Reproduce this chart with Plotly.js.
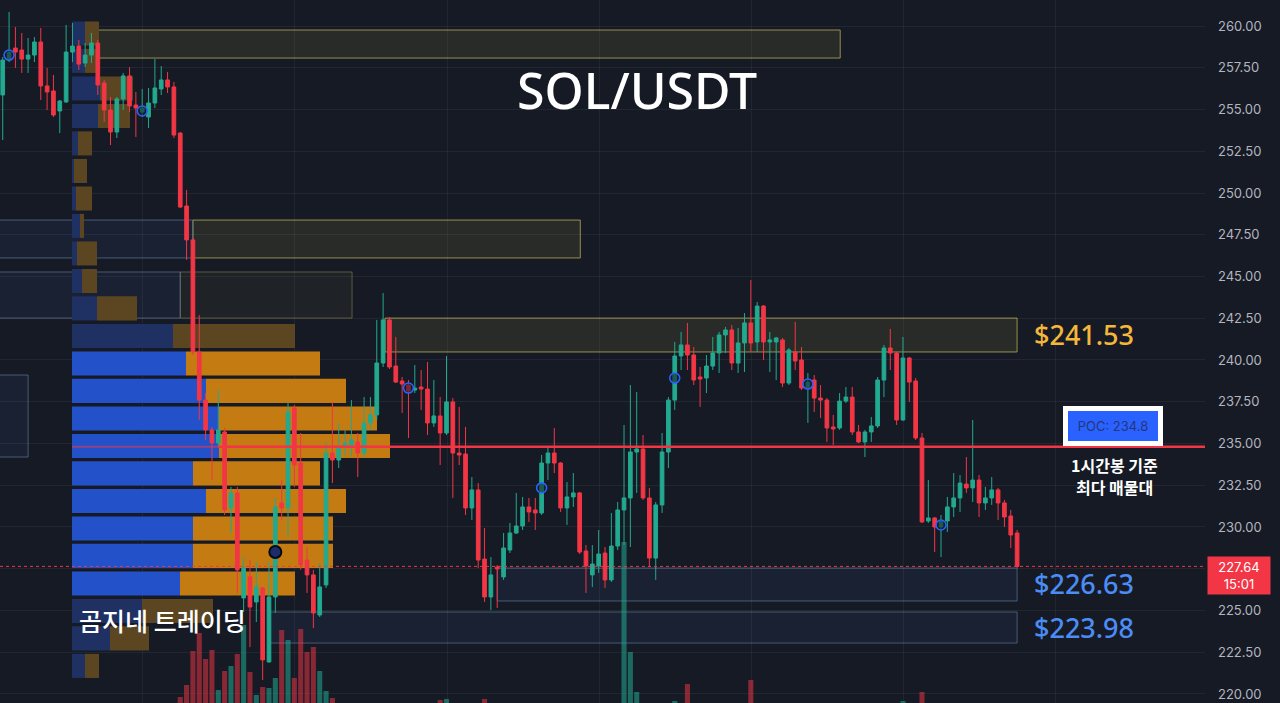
<!DOCTYPE html>
<html><head><meta charset="utf-8">
<script src="https://cdn.plot.ly/plotly-3.0.1.min.js"></script>
<style>html,body{margin:0;padding:0;background:#161a25;}#chart{width:1280px;height:703px;}</style>
</head><body><div id="chart"></div>
<script>
// ---------- 1h candles (index = hour) ----------
const open = [
255.87,257.96,258.68,258.56,258.02,258.26,259.04,256.41,256.11,254.91,
255.45,258.44,258.80,257.78,258.26,258.98,256.59,254.97,253.65,255.63,
257.01,255.27,254.85,254.55,255.39,256.23,256.77,256.35,253.59,249.22,
247.19,240.48,237.60,235.81,235.03,235.69,231.14,232.04,225.75,227.01,
225.51,226.35,221.92,225.81,231.44,231.14,237.13,233.83,228.02,227.13,
224.73,226.53,234.43,234.01,234.79,234.91,235.09,234.43,236.23,236.71,
239.82,242.40,239.64,238.74,238.50,238.20,238.38,238.26,236.23,236.65,
235.63,237.49,234.43,234.37,231.14,232.22,228.08,225.81,227.60,227.01,
228.62,229.64,230.06,231.20,231.02,230.84,233.83,234.43,233.83,231.14,
231.80,232.04,228.56,227.13,227.66,228.44,226.83,228.86,231.02,231.74,
234.49,234.67,231.74,228.14,231.32,234.49,237.60,240.24,240.90,240.30,
238.98,238.92,239.64,240.42,241.50,241.80,239.82,241.02,242.22,241.08,
243.23,241.08,241.08,241.20,238.62,240.48,240.00,238.32,238.80,237.72,
237.60,235.99,235.93,237.54,237.78,235.69,235.09,235.69,236.05,238.80,
240.72,240.42,236.41,240.12,238.74,235.33,230.36,230.54,230.00,230.36,
231.20,231.74,232.57,232.34,232.81,231.44,231.74,232.22,231.44,230.66,
229.64];
const high = [
258.14,260.84,259.94,259.58,259.28,259.34,259.88,257.49,257.07,255.57,
260.06,260.18,259.16,258.98,259.58,259.16,256.77,255.75,255.75,257.19,
257.54,256.05,256.23,256.29,258.02,257.60,257.25,256.65,253.65,250.18,
247.31,242.69,238.02,235.99,238.20,235.93,232.40,232.40,228.20,228.02,
227.90,226.41,227.90,231.74,232.81,237.49,237.31,235.63,228.80,227.43,
227.84,235.09,237.49,236.23,235.81,237.60,235.63,237.78,237.78,242.40,
244.01,242.57,241.38,238.98,238.80,239.70,239.40,239.88,238.80,237.78,
240.24,237.72,237.19,235.99,232.99,232.63,229.94,228.20,227.72,229.64,
230.24,232.04,231.80,231.74,231.74,234.31,234.73,235.93,233.89,232.69,
233.23,232.10,228.92,228.92,229.82,228.80,230.84,231.50,236.11,238.50,
238.08,235.51,232.34,231.50,235.63,237.78,241.08,241.68,242.22,240.78,
239.58,240.30,241.38,241.68,241.98,242.10,241.92,242.81,244.79,243.47,
243.29,241.68,241.38,241.32,240.72,242.28,240.78,239.22,239.10,238.50,
237.72,236.71,238.02,238.38,238.38,236.11,235.81,236.59,238.98,240.90,
241.86,240.48,241.38,240.18,238.92,235.63,232.81,230.60,230.72,231.80,
233.23,233.11,234.19,236.41,233.11,232.40,232.99,232.34,231.62,231.02,
229.82];
const low = [
253.17,257.84,257.49,257.19,257.19,257.84,255.57,254.97,254.55,253.59,
255.40,257.84,257.37,257.54,257.78,255.87,254.25,252.87,253.29,254.97,
254.85,253.35,254.55,253.89,255.09,255.87,255.99,253.29,249.10,245.99,
240.30,236.41,235.21,232.81,234.79,230.72,229.64,226.05,224.91,222.81,
224.31,220.84,221.86,224.85,230.42,229.40,232.40,227.43,226.05,223.95,
224.61,226.35,232.63,233.53,234.31,234.19,232.99,234.19,235.81,236.41,
239.58,239.46,238.62,236.83,235.33,238.02,237.01,235.51,235.99,233.71,
235.51,231.74,233.71,230.72,230.42,227.54,225.51,225.03,225.15,226.83,
228.44,229.58,229.82,230.30,229.82,230.72,232.81,233.23,230.90,230.12,
231.20,228.38,226.05,226.41,227.25,226.35,226.71,228.62,228.92,228.80,
232.04,231.62,227.60,226.83,230.84,233.53,237.01,239.40,239.40,238.50,
237.19,238.02,239.40,239.22,240.42,239.40,239.22,239.28,240.48,240.48,
240.00,239.28,238.80,238.38,238.50,239.40,238.20,236.23,236.89,236.53,
235.09,234.91,235.81,237.43,235.51,235.03,234.19,235.09,235.93,237.78,
239.40,236.11,236.35,237.49,235.21,230.24,230.24,228.50,228.20,229.70,
230.60,230.90,232.04,231.50,230.60,231.02,231.32,230.42,230.00,228.74,
227.54];
const close = [
257.96,258.44,258.44,258.02,258.26,259.04,256.41,256.05,254.67,255.51,
258.44,258.80,257.72,258.26,258.98,256.47,254.97,253.65,255.63,257.01,
255.21,255.09,255.09,255.39,256.29,256.77,256.35,253.47,249.16,247.19,
240.48,237.60,235.81,235.03,235.81,231.02,232.04,227.43,227.54,225.21,
226.41,222.04,225.81,231.20,231.14,236.89,233.71,227.72,227.13,224.85,
226.41,234.43,234.01,234.79,235.03,235.21,234.43,236.23,236.71,239.82,
242.40,239.58,238.68,238.56,238.14,238.32,238.26,236.23,236.65,235.63,
237.49,234.43,234.31,231.14,232.22,228.02,225.81,227.13,227.49,228.74,
229.64,230.06,231.20,230.90,230.84,233.83,234.43,233.83,231.14,231.80,
232.04,228.50,227.66,227.78,228.38,226.83,228.86,231.02,231.74,234.49,
234.67,231.74,228.14,231.32,234.49,237.60,240.24,240.90,240.30,238.80,
238.86,239.64,240.42,241.50,241.80,239.82,241.02,242.22,241.02,243.23,
241.08,241.20,241.32,238.62,240.60,239.94,238.32,238.68,237.72,237.60,
235.93,235.87,237.54,237.78,235.69,235.09,235.69,236.05,238.80,240.72,
240.42,236.41,240.12,238.68,235.33,230.30,230.54,230.00,230.36,231.20,
231.74,232.63,232.34,232.81,231.44,231.74,232.22,231.44,230.60,229.52,
227.64];
const volume = [
10,12,9,11,8,10,14,9,12,8,
11,9,10,8,9,13,10,12,9,10,
12,9,8,7,10,9,8,14,23,35,
69,87,61,70,30,49,54,66,95,48,
25,33,32,42,90,80,42,91,68,73,
49,29,22,14,12,10,11,9,12,15,
14,13,11,10,9,8,9,12,10,20,
21,13,8,10,9,12,21,11,8,9,
10,8,9,7,8,11,9,10,12,9,
8,12,10,9,8,11,10,12,178,68,
28,13,14,12,11,13,19,12,36,11,
8,9,10,11,9,12,10,13,40,12,
13,9,8,12,10,9,11,10,12,9,
11,8,9,10,12,10,9,8,11,12,
10,13,19,17,12,28,10,9,8,11,
10,9,12,10,11,8,9,10,11,13,
14];

// ---------- signal markers ----------
const markerIdx = [1, 22, 64, 85, 106, 127, 148];
const markerPrice = [258.26, 254.91, 238.32, 232.34, 238.92, 238.56, 230.12];
const specialMarkerIdx = [43];
const specialMarkerPrice = [228.50];

// ---------- volume profile (1h) ----------
const profilePrice = [221.68,223.33,224.97,226.62,228.27,229.91,231.56,233.21,234.85,236.50,238.15,239.79,
  241.44,243.09,244.73,246.38,248.03,249.67,251.32,252.97,254.61,256.26,257.91,259.55];
const profileBuy  = [13,38,70,108,121,121,134,121,147,147,134,114,101,25,10,5,8,4,2,6,26,28,13,13];
const profileSell = [14,39,71,115,140,140,140,127,171,158,140,134,122,40,15,20,4,16,13,14,32,33,14,14];
const profileValueArea = [0,0,0,1,1,1,1,1,1,1,1,1,0,0,0,0,0,0,0,0,0,0,0,0];
const pocPrice = 234.8;
const pocRayStartIdx = 34;

// ---------- zones ----------
const supplyZoneStart = [14.1, 30.0, 60.3, 28.0];
const supplyZoneEnd   = [132.1, 91.1, 160.0, 55.1];
const supplyZoneTop   = [259.76, 248.38, 242.51, 245.27];
const supplyZoneBot   = [258.08, 246.11, 240.48, 242.51];
const demandZoneStart = [-1.2, -1.2, -1.2, 78.0, 41.9];
const demandZoneEnd   = [30.0, 28.0, 4.0, 160.0, 160.0];
const demandZoneTop   = [248.38, 245.27, 239.10, 227.54, 224.91];
const demandZoneBot   = [246.11, 242.51, 234.19, 225.57, 223.05];

const levelLabels = ['$241.53', '$226.63', '$223.98'];
const levelPrices = [241.53, 226.63, 223.98];
const levelIsResistance = [1, 0, 0];
const pocNoteLines = ['1시간봉 기준', '최다 매물대'];
const lastTime = '15:01';

// ---------- build ----------
const UP = '#22a98f', DOWN = '#f23645';
const idx = open.map((_, i) => i);
const X2MIN = -0.43, X2MAX = 189.64;

const candle = {
  type: 'candlestick', x: idx, open: open, high: high, low: low, close: close,
  xaxis: 'x2', yaxis: 'y',
  increasing: {line: {color: UP, width: 1}, fillcolor: UP},
  decreasing: {line: {color: DOWN, width: 1}, fillcolor: DOWN},
  whiskerwidth: 0, hoverinfo: 'skip', showlegend: false
};
const vol = {
  type: 'bar', x: idx, y: volume, xaxis: 'x2', yaxis: 'y2', width: 0.8,
  marker: {color: idx.map(i => close[i] >= open[i] ? 'rgba(34,171,148,0.55)' : 'rgba(242,54,69,0.52)'), line: {width: 0}},
  hoverinfo: 'skip', showlegend: false
};
const profBuy = {
  type: 'bar', orientation: 'h', y: profilePrice, x: profileBuy, base: 0, width: 1.44,
  xaxis: 'x', yaxis: 'y',
  marker: {color: profileValueArea.map(v => v ? '#2351c9' : '#1f3163'), line: {width: 0}},
  hoverinfo: 'skip', showlegend: false
};
const profSell = {
  type: 'bar', orientation: 'h', y: profilePrice, x: profileSell, base: profileBuy, width: 1.44,
  xaxis: 'x', yaxis: 'y',
  marker: {color: profileValueArea.map(v => v ? '#c47c12' : '#5c4622'), line: {width: 0}},
  hoverinfo: 'skip', showlegend: false
};
const marks = {
  type: 'scatter', mode: 'markers', x: markerIdx, y: markerPrice, xaxis: 'x2', yaxis: 'y',
  marker: {symbol: 'circle', size: 10, color: 'rgba(22,26,37,0.55)', line: {color: '#2962ff', width: 1.6}},
  hoverinfo: 'skip', showlegend: false
};
const marks2 = {
  type: 'scatter', mode: 'markers', x: specialMarkerIdx, y: specialMarkerPrice, xaxis: 'x2', yaxis: 'y',
  marker: {symbol: 'circle', size: 12, color: '#1b2d6b', line: {color: '#070910', width: 2}},
  hoverinfo: 'skip', showlegend: false
};

const shapes = [];
for (let i = 0; i < supplyZoneStart.length; i++) {
  shapes.push({type: 'rect', xref: 'x2', yref: 'y', x0: supplyZoneStart[i], x1: supplyZoneEnd[i],
    y0: supplyZoneBot[i], y1: supplyZoneTop[i], layer: 'below',
    fillcolor: i === 3 ? 'rgba(150,140,70,0.07)' : 'rgba(150,140,60,0.15)',
    line: {color: i === 3 ? 'rgba(160,150,90,0.5)' : 'rgba(190,180,90,0.75)', width: 1}});
}
for (let i = 0; i < demandZoneStart.length; i++) {
  shapes.push({type: 'rect', xref: 'x2', yref: 'y', x0: demandZoneStart[i], x1: demandZoneEnd[i],
    y0: demandZoneBot[i], y1: demandZoneTop[i], layer: 'below',
    fillcolor: 'rgba(50,85,150,0.13)', line: {color: 'rgba(95,125,155,0.65)', width: 1}});
}
const pocIdx = profilePrice.reduce((b, p, i) => (profileBuy[i] + profileSell[i] > profileBuy[b] + profileSell[b] ? i : b), 0);
shapes.push({type: 'line', xref: 'x', yref: 'y', x0: 0, x1: profileBuy[pocIdx] + profileSell[pocIdx],
  y0: pocPrice, y1: pocPrice, layer: 'above', line: {color: 'rgba(242,54,69,0.55)', width: 2}});
shapes.push({type: 'line', xref: 'x2', yref: 'y', x0: pocRayStartIdx, x1: X2MAX,
  y0: pocPrice, y1: pocPrice, layer: 'above', line: {color: '#f23645', width: 2.5}});
const last = close[close.length - 1];
shapes.push({type: 'line', xref: 'paper', yref: 'y', x0: 0, x1: 1, y0: last, y1: last,
  layer: 'above', line: {color: '#f23645', width: 1, dash: 'dot'}});

const annotations = [
  {xref: 'paper', yref: 'paper', x: 0.5286, y: 0.872, text: 'SOL/USDT', showarrow: false,
   xanchor: 'center', yanchor: 'middle', font: {family: 'Noto Sans', size: 50, color: '#ffffff', weight: 500}},
  {xref: 'paper', yref: 'paper', x: 0.0635, y: 0.118, text: '곰지네 트레이딩', showarrow: false,
   xanchor: 'left', yanchor: 'middle', font: {family: 'Noto Sans CJK KR', size: 25, color: '#ffffff', weight: 500}},
  {xref: 'x2', yref: 'y', x: 175.05, y: pocPrice, text: 'POC: ' + pocPrice, showarrow: false,
   xanchor: 'center', yanchor: 'bottom', yshift: 1, width: 80, height: 20, borderpad: 5,
   bgcolor: '#2962ff', bordercolor: '#ffffff', borderwidth: 5,
   font: {family: 'Inter', size: 13, color: '#27367a'}},
  {xref: 'paper', yref: 'y', x: 1, y: last, xanchor: 'left', yanchor: 'top', xshift: 2, yshift: 10,
   text: last.toFixed(2) + '<br>' + lastTime, showarrow: false, bgcolor: '#f23645', borderpad: 2,
   width: 58, align: 'center', font: {family: 'Inter', size: 13, color: '#ffffff'}}
];
for (let i = 0; i < pocNoteLines.length; i++) {
  annotations.push({xref: 'x2', yref: 'y', x: 175.4, y: pocPrice, text: pocNoteLines[i], showarrow: false,
    xanchor: 'center', yanchor: 'middle', yshift: -18 - 22 * i,
    font: {family: 'Noto Sans CJK KR', size: 16, color: '#ffffff', weight: 600}});
}
for (let i = 0; i < levelLabels.length; i++) {
  annotations.push({xref: 'x2', yref: 'y', x: 162.3, y: levelPrices[i], text: levelLabels[i], showarrow: false,
    xanchor: 'left', yanchor: 'middle',
    font: {family: 'Noto Sans', size: 27, weight: 500, color: levelIsResistance[i] ? '#f4b73a' : '#4b8cf5'}});
}

const layout = {
  width: 1280, height: 703, margin: {l: 0, r: 75, t: 0, b: 0},
  paper_bgcolor: '#161a25', plot_bgcolor: '#161a25', showlegend: false, hovermode: false,
  barmode: 'overlay', boxgap: 0.42, boxgroupgap: 0,
  xaxis: {range: [-72, 1133], visible: false, fixedrange: true},
  yaxis: {range: [219.46, 261.557], side: 'right', tickmode: 'linear', tick0: 220, dtick: 2.5,
    tickformat: '.2f', showgrid: true, gridcolor: 'rgba(255,255,255,0.055)', zeroline: false,
    showline: false, ticks: '', ticklabelstandoff: 12,
    tickfont: {family: 'Inter', size: 13, color: '#b2b5be'}},
  xaxis2: {overlaying: 'x', anchor: 'y', range: [X2MIN, X2MAX], tickmode: 'linear', tick0: 22.1, dtick: 24,
    showgrid: true, gridcolor: 'rgba(255,255,255,0.05)', showticklabels: false, ticks: '', zeroline: false,
    rangeslider: {visible: false}},
  yaxis2: {overlaying: 'y', anchor: 'x2', range: [17, 720], visible: false, showgrid: false},
  shapes: shapes, annotations: annotations
};

Plotly.newPlot('chart', [profBuy, profSell, vol, candle, marks, marks2], layout, {displayModeBar: false, staticPlot: true});
</script></body></html>
